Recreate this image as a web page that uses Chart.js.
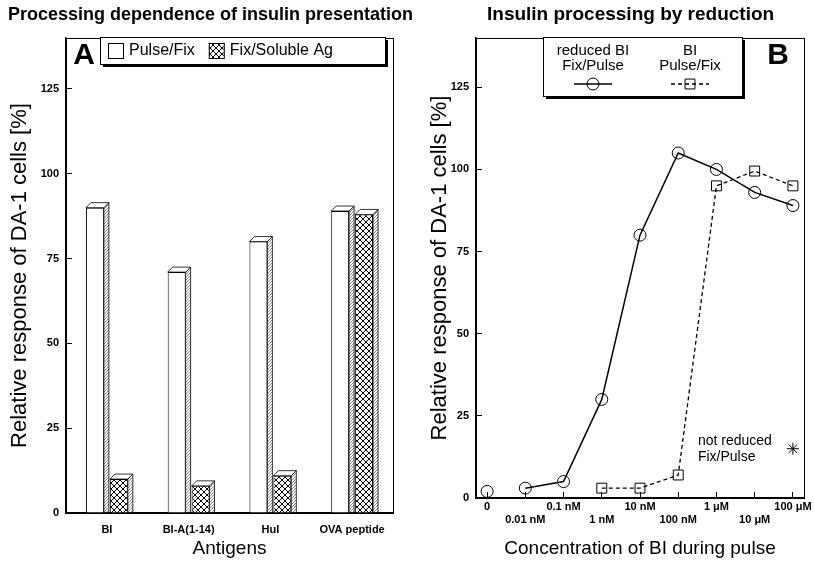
<!DOCTYPE html>
<html>
<head>
<meta charset="utf-8">
<script src="https://cdn.jsdelivr.net/npm/chart.js@4.4.0/dist/chart.umd.min.js"></script>
<style>
  html, body { margin: 0; padding: 0; background: #fff; overflow: hidden; }
  .panel { position: absolute; top: 0; height: 564px; }
  #panelA { left: 0; width: 420px; }
  #panelB { left: 420px; width: 414px; }
</style>
</head>
<body>
<div class="panel" id="panelA"><canvas id="chartA"></canvas></div>
<div class="panel" id="panelB"><canvas id="chartB"></canvas></div>
<script>
// panel A
const antigens = ['BI', 'BI-A(1-14)', 'HuI', 'OVA peptide'];
const pulseFix = [90, 71, 80, 89];
const fixSolubleAg = [10, 8, 11, 88];
const responseTicks = [0, 25, 50, 75, 100, 125];

// panel B (concentrations in nM, 0 = no antigen)
const concentrationsNM = [0, 0.01, 0.1, 1, 10, 100, 1000, 10000, 100000];
const reducedFixPulse = [2, 3, 5, 30, 80, 105, 100, 93, 89];
const biPulseFix = [null, null, null, 3, 3, 7, 95, 99.5, 95];
const notReducedConc = [100000];
const notReducedFixPulse = [15];
const concTickValues = [0, 0.01, 0.1, 1, 10, 100, 1000, 10000, 100000];
const concTickLabels = ['0', '0.01 nM', '0.1 nM', '1 nM', '10 nM', '100 nM', '1 \u03bcM', '10 \u03bcM', '100 \u03bcM'];
const zeroDose = 0.001; // where the "0" control sits on the log axis

const FONT = "'Liberation Sans', Arial, Helvetica, sans-serif";
Chart.defaults.font.family = FONT;
Chart.defaults.color = '#000';

function makePattern(size, draw) {
  const c = document.createElement('canvas');
  c.width = size; c.height = size;
  const g = c.getContext('2d');
  draw(g);
  return g.createPattern(c, 'repeat');
}
const hatch = makePattern(6, g => {
  g.fillStyle = '#fff'; g.fillRect(0, 0, 6, 6);
  g.strokeStyle = '#000'; g.lineWidth = 1;
  g.beginPath();
  g.moveTo(-1, -1); g.lineTo(7, 7);
  g.moveTo(-1, 7); g.lineTo(7, -1);
  g.stroke();
});
const stipple = makePattern(3, g => {
  g.fillStyle = '#fff'; g.fillRect(0, 0, 3, 3);
  g.fillStyle = '#888'; g.fillRect(0, 0, 1, 1); g.fillRect(2, 1, 1, 1); g.fillRect(1, 2, 1, 1);
});

function shadowBox(ctx, x, y, w, h) {
  ctx.fillStyle = '#000';
  ctx.fillRect(x + 3, y + 3, w, h);
  ctx.fillStyle = '#fff';
  ctx.fillRect(x, y, w, h);
  ctx.strokeStyle = '#000';
  ctx.lineWidth = 1;
  ctx.strokeRect(x + 0.5, y + 0.5, w, h);
}

const panelTitle = {
  id: 'panelTitle',
  afterDraw(chart, args, o) {
    const ctx = chart.ctx;
    ctx.save();
    ctx.fillStyle = '#000';
    ctx.textBaseline = 'middle';
    ctx.font = 'bold ' + o.size + 'px ' + FONT;
    ctx.fillText(o.text, o.x, o.y);
    // panel letter
    ctx.font = 'bold 30px ' + FONT;
    ctx.textAlign = 'center';
    ctx.fillText(o.letter, chart.chartArea[o.letterSide] + o.letterDx, chart.chartArea.top + 18);
    ctx.restore();
  }
};

const frame = {
  id: 'frame',
  beforeDatasetsDraw(chart) {
    const {ctx, chartArea: a} = chart;
    ctx.save();
    ctx.strokeStyle = '#000';
    ctx.lineWidth = 1;
    ctx.strokeRect(a.left + 0.5, a.top + 0.5, a.width, a.height);
    ctx.restore();
  }
};

const bars3d = {
  id: 'bars3d',
  afterDatasetsDraw(chart) {
    const ctx = chart.ctx, d = 5;
    chart.data.datasets.forEach((ds, i) => {
      chart.getDatasetMeta(i).data.forEach(bar => {
        const {x, y, base, width} = bar.getProps(['x', 'y', 'base', 'width'], true);
        const l = x - width / 2, r = x + width / 2;
        ctx.save();
        ctx.strokeStyle = '#000';
        ctx.lineWidth = 0.8;
        ctx.beginPath();
        ctx.moveTo(r, y); ctx.lineTo(r + d, y - d); ctx.lineTo(r + d, base); ctx.lineTo(r, base);
        ctx.closePath();
        ctx.fillStyle = stipple; ctx.fill(); ctx.stroke();
        ctx.beginPath();
        ctx.moveTo(l, y); ctx.lineTo(l + d, y - d); ctx.lineTo(r + d, y - d); ctx.lineTo(r, y);
        ctx.closePath();
        ctx.fillStyle = '#fff'; ctx.fill(); ctx.stroke();
        ctx.restore();
      });
    });
  }
};

// legend of panel A: swatches in one row inside a shadowed box
const legendRow = {
  id: 'legendRow',
  afterDraw(chart) {
    const {ctx, chartArea: a} = chart;
    const bx = a.left + 34, by = a.top - 1, bw = 285, bh = 27;
    ctx.save();
    shadowBox(ctx, bx, by, bw, bh);
    ctx.font = '16px ' + FONT;
    ctx.textBaseline = 'middle';
    let x = bx + 8;
    chart.data.datasets.forEach(ds => {
      ctx.fillStyle = ds.backgroundColor;
      ctx.fillRect(x, by + 6, 15, 15);
      ctx.strokeStyle = '#000'; ctx.lineWidth = 1;
      ctx.strokeRect(x + 0.5, by + 6.5, 15, 15);
      ctx.fillStyle = '#000';
      ctx.fillText(ds.label, x + 21, by + 14);
      x += 21 + ctx.measureText(ds.label).width + 14;
    });
    ctx.restore();
  }
};

// legend of panel B: two columns with two-line labels and a line sample
const legendCols = {
  id: 'legendCols',
  afterDraw(chart) {
    const {ctx, chartArea: a} = chart;
    const bx = a.left + 67, by = a.top - 1, bw = 199, bh = 59;
    ctx.save();
    shadowBox(ctx, bx, by, bw, bh);
    ctx.font = '15px ' + FONT;
    ctx.textAlign = 'center';
    ctx.textBaseline = 'middle';
    let cx = bx + 50;
    chart.data.datasets.filter(ds => ds.inLegend).forEach(ds => {
      ctx.fillStyle = '#000';
      ds.label.split('\n').forEach((t, k) => ctx.fillText(t, cx, by + 14 + k * 15));
      const sy = by + 47;
      ctx.strokeStyle = '#000';
      ctx.lineWidth = ds.borderWidth;
      ctx.setLineDash(ds.borderDash || []);
      ctx.beginPath(); ctx.moveTo(cx - 19, sy); ctx.lineTo(cx + 19, sy); ctx.stroke();
      ctx.setLineDash([]);
      ctx.lineWidth = 1;
      ctx.fillStyle = 'rgba(0,0,0,0)';
      Chart.helpers.drawPoint(ctx, {pointStyle: ds.pointStyle, radius: ds.pointRadius, borderWidth: 1, rotation: 0}, cx, sy);
      cx += 97;
    });
    ctx.restore();
  }
};

// text label beside the "not reduced" point
const noteLabel = {
  id: 'noteLabel',
  afterDatasetsDraw(chart) {
    const ctx = chart.ctx;
    chart.data.datasets.forEach((ds, i) => {
      if (!ds.note) return;
      const p = chart.getDatasetMeta(i).data[0];
      ctx.save();
      ctx.fillStyle = '#000';
      ctx.font = '14px ' + FONT;
      ctx.textBaseline = 'middle';
      ds.label.split('\n').forEach((t, k) => ctx.fillText(t, p.x - 95, p.y - 8 + k * 16));
      ctx.restore();
    });
  }
};

const yTitle = 'Relative response of DA-1 cells [%]';
const tickFont = {size: 11, weight: 'bold'};

function yScale(width) {
  return {
    min: 0, max: 140,
    afterBuildTicks: s => { s.ticks = responseTicks.map(v => ({value: v})); },
    grid: {drawOnChartArea: false, tickLength: -6, color: '#000'},
    border: {display: true, color: '#000', width: 1.5},
    ticks: {font: tickFont, color: '#000', padding: 13},
    title: {display: true, text: yTitle, font: {size: 22}, color: '#000', padding: {top: 7, bottom: 0}},
    afterFit: s => { s.width = width; }
  };
}

new Chart(document.getElementById('chartA'), {
  type: 'bar',
  data: {
    labels: antigens,
    datasets: [
      {label: 'Pulse/Fix', data: pulseFix, backgroundColor: '#fff', borderColor: '#000', borderWidth: 1},
      {label: 'Fix/Soluble Ag', data: fixSolubleAg, backgroundColor: hatch, borderColor: '#000', borderWidth: 1}
    ]
  },
  options: {
    responsive: true,
    maintainAspectRatio: false,
    animation: false,
    datasets: {bar: {categoryPercentage: 0.585, barPercentage: 0.75}},
    layout: {padding: {top: 38, right: 27, left: 0, bottom: 0}},
    plugins: {
      legend: {display: false},
      tooltip: {enabled: false},
      panelTitle: {text: 'Processing dependence of insulin presentation', size: 18, x: 8, y: 15, letter: 'A', letterSide: 'left', letterDx: 18}
    },
    scales: {
      x: {
        grid: {display: false},
        border: {display: true, color: '#000', width: 1.5},
        ticks: {font: tickFont, color: '#000', padding: 2, maxRotation: 0, autoSkip: false},
        title: {display: true, text: 'Antigens', font: {size: 19}, color: '#000', padding: {top: 0, bottom: 4}},
        afterFit: s => { s.height = 51; }
      },
      y: yScale(66)
    }
  },
  plugins: [panelTitle, frame, bars3d, legendRow]
});

function toPoints(values) {
  return concentrationsNM
    .map((c, i) => ({x: c === 0 ? zeroDose : c, y: values[i]}))
    .filter(p => p.y !== null);
}

new Chart(document.getElementById('chartB'), {
  type: 'line',
  data: {
    datasets: [
      {
        label: 'reduced BI\nFix/Pulse', inLegend: true,
        data: toPoints(reducedFixPulse),
        borderColor: '#000', borderWidth: 1.5,
        pointStyle: 'circle', pointRadius: 6, pointBorderWidth: 1,
        pointBorderColor: '#000', pointBackgroundColor: 'rgba(0,0,0,0)',
        segment: {borderColor: c => c.p0DataIndex === 0 ? 'rgba(0,0,0,0)' : '#000'}
      },
      {
        label: 'BI\nPulse/Fix', inLegend: true,
        data: toPoints(biPulseFix),
        borderColor: '#000', borderWidth: 1.3, borderDash: [4, 3],
        pointStyle: 'rect', pointRadius: 7, pointBorderWidth: 1,
        pointBorderColor: '#000', pointBackgroundColor: 'rgba(0,0,0,0)'
      },
      {
        label: 'not reduced\nFix/Pulse', note: true,
        data: notReducedConc.map((c, i) => ({x: c, y: notReducedFixPulse[i]})),
        showLine: false,
        pointStyle: 'star', pointRadius: 6, pointBorderWidth: 1, pointBorderColor: '#000'
      }
    ]
  },
  options: {
    responsive: true,
    maintainAspectRatio: false,
    animation: false,
    layout: {padding: {top: 38, right: 30, left: 0, bottom: 0}},
    plugins: {
      legend: {display: false},
      tooltip: {enabled: false},
      panelTitle: {text: 'Insulin processing by reduction', size: 19, x: 67, y: 15, letter: 'B', letterSide: 'right', letterDx: -26}
    },
    scales: {
      x: {
        type: 'logarithmic',
        min: zeroDose * Math.pow(10, -0.29),
        max: 100000 * Math.pow(10, 0.29),
        afterBuildTicks: s => { s.ticks = concTickValues.map(c => ({value: c === 0 ? zeroDose : c})); },
        grid: {drawOnChartArea: false, tickLength: -6, color: '#000'},
        border: {display: true, color: '#000', width: 1.5},
        ticks: {
          font: tickFont, color: '#000', padding: 8, maxRotation: 0, autoSkip: false,
          callback: (v, i) => i % 2 ? ['', concTickLabels[i]] : concTickLabels[i]
        },
        title: {display: true, text: 'Concentration of BI during pulse', font: {size: 19}, color: '#000', padding: {top: 0, bottom: 4}},
        afterFit: s => { s.height = 66; }
      },
      y: yScale(56)
    }
  },
  plugins: [panelTitle, frame, legendCols, noteLabel]
});
</script>
</body>
</html>
